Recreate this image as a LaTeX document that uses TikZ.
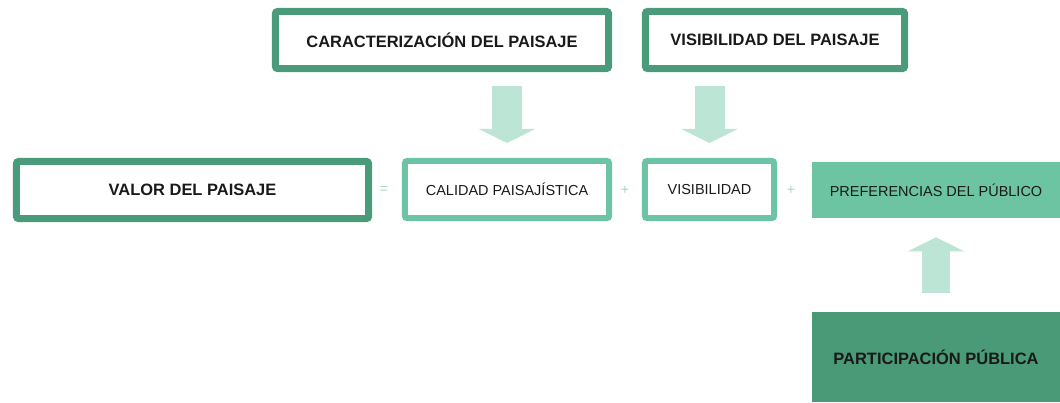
\documentclass[tikz,border=0pt]{standalone}
\usepackage{fontspec}
\setmainfont{Liberation Sans}
\usepackage{tikz}
\usetikzlibrary{arrows.meta, calc}
\definecolor{PaisDark}{RGB}{74, 155, 122}
\definecolor{PaisLight}{RGB}{108, 196, 164}
\definecolor{PaisArrow}{RGB}{189, 229, 214}
\definecolor{PaisFill}{RGB}{109, 196, 163}
\definecolor{PaisDeep}{RGB}{74, 154, 120}
\definecolor{PaisOp}{RGB}{170, 212, 196}

\begin{document}
\begin{tikzpicture}[
    x=0.025cm, y=-0.025cm,
    darkbox/.style={rectangle, draw=PaisDark, line width=0.175cm, rounded corners=1.5pt,
      minimum height=1.425cm, text centered, text=black!90,
      font=\fontsize{11.7}{14}\selectfont\bfseries},
    lightbox/.style={rectangle, draw=PaisLight, line width=0.15cm, rounded corners=1.5pt,
      minimum height=1.425cm, text centered, text=black!90,
      font=\fontsize{10.3}{13}\selectfont},
    fillbox/.style={rectangle, inner sep=0pt, minimum width=6.2cm, text=black!90},
    opsym/.style={text=PaisOp, font=\normalsize},
    bigarrow/.style={-{Triangle[length=0.35cm, width=1.4cm]}, line width=0.75cm, PaisArrow},
  ]
    \useasboundingbox (0,0) rectangle (1060,402);

    % top row
    \node[darkbox, minimum width=8.325cm] (caract) at (442,40) {CARACTERIZACIÓN DEL PAISAJE};
    \node[darkbox, minimum width=6.475cm] (vistop) at (775,40) {VISIBILIDAD DEL PAISAJE};

    % middle row
    \node[darkbox, minimum width=8.8cm] (valor) at (192.5,190) {VALOR DEL PAISAJE};
    \node[lightbox, minimum width=5.1cm] (calidad) at (507,189.5) {CALIDAD PAISAJÍSTICA};
    \node[lightbox, minimum width=3.225cm] (visib) at (709.5,189.5) {VISIBILIDAD};
    \node[fillbox, fill=PaisFill, minimum height=1.4cm,
      font=\fontsize{10.3}{13}\selectfont] (prefer) at (936,190) {PREFERENCIAS DEL PÚBLICO};

    \node[opsym] (eq) at (384,190) {=};
    \node[opsym] (plusa) at (625,190) {+};
    \node[opsym] (plusb) at (791,190) {+};

    % bottom
    \node[fillbox, fill=PaisDeep, minimum height=2.25cm,
      font=\fontsize{11.7}{14}\selectfont\bfseries] (particip) at (936,357) {PARTICIPACIÓN PÚBLICA};

    \draw[bigarrow, shorten <=0.35cm, shorten >=0.375cm] (calidad.north |- caract.south) -- (calidad.north);
    \draw[bigarrow, shorten <=0.35cm, shorten >=0.375cm] (visib.north |- vistop.south) -- (visib.north);
    \draw[bigarrow, line width=0.7cm, shorten <=0.475cm, shorten >=0.475cm] (prefer.south |- particip.north) -- (prefer.south);
  \end{tikzpicture}
\end{document}
